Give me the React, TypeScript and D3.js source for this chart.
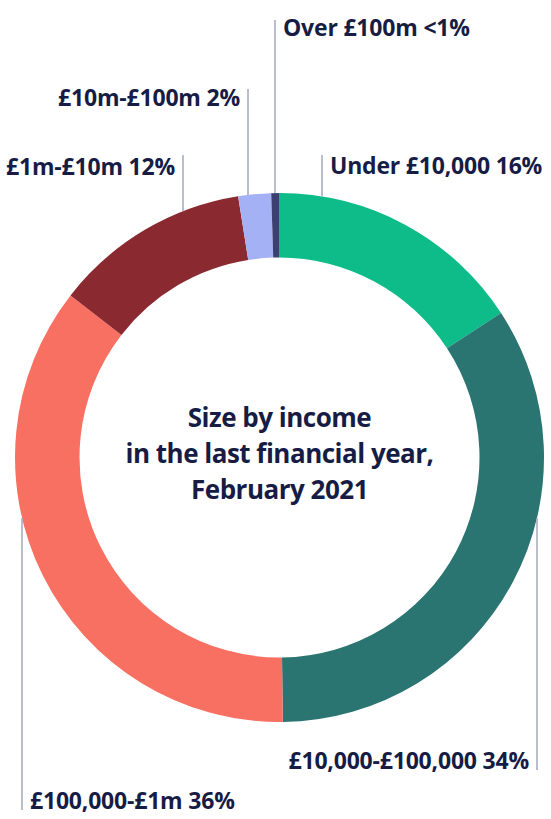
import React from "react";
import * as d3 from "d3";

const categories = [
  "Under £10,000",
  "£10,000-£100,000",
  "£100,000-£1m",
  "£1m-£10m",
  "£10m-£100m",
  "Over £100m",
];
const values = [15.8, 34.0, 35.7, 12.0, 2.0, 0.5];
const percentLabels = ["16%", "34%", "36%", "12%", "2%", "<1%"];
const colors = ["#0dbc89", "#2a7471", "#f87061", "#8a2930", "#a4b1f5", "#3c3f72"];
const titleLines = ["Size by income", "in the last financial year,", "February 2021"];

const labelLayout = [
  { lx: 322, ty: 174, lineFrom: 155, dir: "up", anchor: "start", tx: 330 },
  { lx: 537, ty: 769, lineTo: 770, dir: "down", anchor: "end", tx: 529 },
  { lx: 22, ty: 809, lineTo: 810, dir: "down", anchor: "start", tx: 30 },
  { lx: 183, ty: 175, lineFrom: 155, dir: "up", anchor: "end", tx: 175 },
  { lx: 248, ty: 106, lineFrom: 89, dir: "up", anchor: "end", tx: 240 },
  { lx: 275, ty: 36, lineFrom: 20, dir: "up", anchor: "start", tx: 283 },
];

export default function App() {
  const W = 551;
  const H = 819;
  const cx = 279.5;
  const cy = 457.5;
  const R = 264.5;
  const r = 200;
  const pie = d3.pie<number>().sort(null).value((d) => d)(values);
  const arc = d3.arc<d3.PieArcDatum<number>>().innerRadius(r).outerRadius(R);
  const font = "'Open Sans', Lato, sans-serif";
  const ink = "#171c45";

  return (
    <svg
      width={W}
      height={H}
      style={{ position: "absolute", left: 0, top: 0, background: "#fff" }}
    >
      <g transform={`translate(${cx},${cy})`}>
        {pie.map((p, i) => (
          <path key={i} d={arc(p) || ""} fill={colors[i]} />
        ))}
      </g>
      {labelLayout.map((l, i) => {
        const dx = l.lx - cx;
        const dy = Math.sqrt(Math.max(0, R * R - dx * dx));
        const y1 = l.dir === "up" ? (l.lineFrom as number) : cy + dy;
        const y2 = l.dir === "up" ? cy - dy : (l.lineTo as number);
        return (
          <g key={i}>
            <line x1={l.lx} x2={l.lx} y1={y1} y2={y2} stroke="#a2a7bc" strokeWidth={1.5} />
            <text
              x={l.tx}
              y={l.ty}
              textAnchor={l.anchor}
              fontFamily={font}
              fontWeight={700}
              fontSize={23}
              letterSpacing={-0.2}
              fill={ink}
            >
              {categories[i]} {percentLabels[i]}
            </text>
          </g>
        );
      })}
      {titleLines.map((t, i) => (
        <text
          key={i}
          x={cx}
          y={427 + i * 36}
          textAnchor="middle"
          fontFamily={font}
          fontWeight={700}
          fontSize={26}
          letterSpacing={-0.5}
          fill={ink}
        >
          {t}
        </text>
      ))}
    </svg>
  );
}
